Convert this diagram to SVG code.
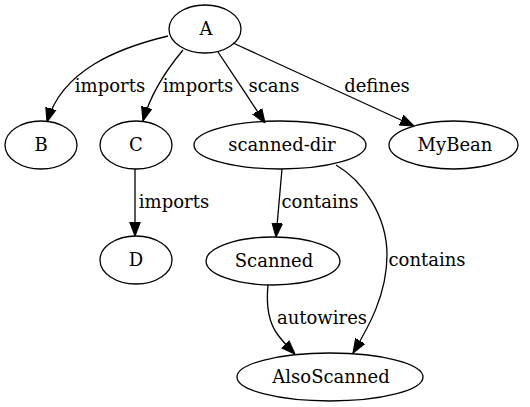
<svg xmlns="http://www.w3.org/2000/svg" width="530" height="407" viewBox="0 0 530 407">
<style>
.n ellipse{fill:none;stroke:#000;stroke-width:1.3}
text{font-family:"DejaVu Serif","Liberation Serif",serif;font-size:18px;fill:#000}
.n text{text-anchor:middle}
.e path{fill:none;stroke:#000;stroke-width:1.3;marker-end:url(#ah)}
.l{text-anchor:middle}
</style>
<defs>
<marker id="ah" markerUnits="userSpaceOnUse" markerWidth="14" markerHeight="12" viewBox="0 0 12 9" refX="12" refY="4.5" orient="auto">
<polygon points="0,0 12,4.5 0,9" fill="#000" stroke="#000"/>
</marker>
</defs>
<rect width="530" height="407" fill="#fff"/>
<g id="connectors" class="e">
<path d="M168,36 C118,48 62,70 47,122"/>
<path d="M183,50 C168,68 151,92 143,121"/>
<path d="M218,52 C232,73 250,100 265,123"/>
<path d="M233,43 L414,126"/>
<path d="M135,169 L135,236"/>
<path d="M282,169 L276,237"/>
<path d="M336,165 C362,180 387,215 387,255 C387,295 368,328 353,353"/>
<path d="M268,285 C266,305 268,322 278,335 C283,342 289,348 295,354"/>
</g>
<g id="labels">
<text class="l" x="110" y="92">imports</text>
<text class="l" x="198" y="92">imports</text>
<text class="l" x="274" y="92">scans</text>
<text class="l" x="377" y="92">defines</text>
<text class="l" x="174" y="208">imports</text>
<text class="l" x="320" y="208">contains</text>
<text class="l" x="427" y="266">contains</text>
<text class="l" x="322" y="324">autowires</text>
</g>
<g id="A" class="n"><ellipse cx="205" cy="29" rx="36" ry="24"/><text x="206" y="35">A</text></g>
<g id="B" class="n"><ellipse cx="41" cy="145" rx="36" ry="24"/><text x="41" y="151">B</text></g>
<g id="C" class="n"><ellipse cx="136" cy="145" rx="36" ry="24"/><text x="136" y="151">C</text></g>
<g id="scanned-dir" class="n"><ellipse cx="280" cy="145" rx="86" ry="24"/><text x="282" y="151">scanned-dir</text></g>
<g id="MyBean" class="n"><ellipse cx="453.5" cy="145" rx="64.5" ry="24"/><text x="455" y="151">MyBean</text></g>
<g id="D" class="n"><ellipse cx="136" cy="260" rx="36" ry="24"/><text x="136" y="266">D</text></g>
<g id="Scanned" class="n"><ellipse cx="273" cy="261" rx="67" ry="24"/><text x="274" y="267">Scanned</text></g>
<g id="AlsoScanned" class="n"><ellipse cx="330" cy="377" rx="93" ry="24"/><text x="331" y="383">AlsoScanned</text></g>
</svg>
